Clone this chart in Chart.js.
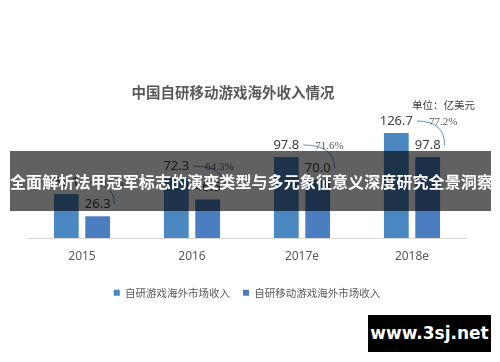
<!DOCTYPE html>
<html>
<head>
<meta charset="utf-8">
<script src="https://cdn.jsdelivr.net/npm/chart.js@4.4.1/dist/chart.umd.min.js"></script>
<style>
  html, body { margin: 0; padding: 0; background: #fff; }
  #wrap { position: relative; width: 500px; height: 362px; overflow: hidden; }
  #title { position: absolute; left: 0; width: 466px; top: 81px; text-align: center;
           font: bold 14.5px "Noto Sans CJK SC", sans-serif; color: #595959; }
  #unit { position: absolute; left: 412px; top: 97px; font: 10.5px "Noto Sans CJK SC", sans-serif; color: #404040; }
  #banner { position: absolute; left: 10px; top: 151px; width: 481px; height: 60px; background: rgba(0,0,0,0.62);
            color: #fff; font: bold 16px "Noto Sans CJK SC", sans-serif; line-height: 60px; text-align: center; white-space: nowrap; letter-spacing: 0.1px; }
  #mark { position: absolute; left: 368px; top: 315px; width: 123px; height: 37px; background: #000;
          color: #fff; font: bold 17px "DejaVu Sans", sans-serif; line-height: 37px; text-align: center; }
</style>
</head>
<body>
<div id="wrap">
  <canvas id="myChart" width="500" height="362"></canvas>
  <div id="title">中国自研移动游戏海外收入情况</div>
  <div id="unit">单位：亿美元</div>
  <div id="banner">全面解析法甲冠军标志的演变类型与多元象征意义深度研究全景洞察</div>
  <div id="mark">www.3sj.net</div>
</div>
<script>
const years = ['2015', '2016', '2017e', '2018e'];
const gameRevenue = [53.1, 72.3, 97.8, 126.7];
const mobileRevenue = [26.3, 46.5, 70.0, 97.8];
const shareLabels = ['49.5%', '64.3%', '71.6%', '77.2%'];

// valeurs au-dessus des barres + arcs de pourcentage
const labelPlugin = {
  id: 'labels',
  afterDatasetsDraw(chart) {
    const ctx = chart.ctx;
    const m0 = chart.getDatasetMeta(0).data;
    const m1 = chart.getDatasetMeta(1).data;
    ctx.save();
    ctx.font = '13px "Noto Sans", sans-serif';
    ctx.fillStyle = '#404040';
    ctx.textAlign = 'center';
    ctx.textBaseline = 'middle';
    const pos = [];
    [m0, m1].forEach((bars, d) => {
      bars.forEach((bar, i) => {
        const v = chart.data.datasets[d].data[i];
        const txt = v.toFixed(1);
        const y = bar.y - 12;
        ctx.fillText(txt, bar.x, y);
        pos.push({ d, i, x: bar.x, y, w: ctx.measureText(txt).width });
      });
    });
    ctx.strokeStyle = '#5b8fc9';
    ctx.lineWidth = 1;
    ctx.font = '11px "Liberation Serif", serif';
    ctx.fillStyle = '#595959';
    ctx.textAlign = 'left';
    years.forEach((yr, i) => {
      const a = pos.find(p => p.d === 0 && p.i === i);
      const b = pos.find(p => p.d === 1 && p.i === i);
      const sx = a.x + a.w / 2 + 4, sy = a.y;
      const ex = b.x + b.w / 2 + 4, ey = b.y;
      ctx.beginPath();
      ctx.moveTo(sx, sy);
      ctx.quadraticCurveTo(ex, sy, ex, ey);
      ctx.stroke();
      ctx.fillText(shareLabels[i], sx + 12, sy + 1);
    });
    ctx.restore();
  }
};

const ctx = document.getElementById('myChart').getContext('2d');
new Chart(ctx, {
  type: 'bar',
  data: {
    labels: years,
    datasets: [
      { label: '自研游戏海外市场收入', data: gameRevenue, backgroundColor: '#4b87c0',
        categoryPercentage: 0.57, barPercentage: 0.79 },
      { label: '自研移动游戏海外市场收入', data: mobileRevenue, backgroundColor: '#4b7ec1',
        categoryPercentage: 0.57, barPercentage: 0.79 }
    ]
  },
  options: {
    responsive: false,
    animation: false,
    layout: { padding: { left: 27, right: 33, top: 122, bottom: 54 } },
    plugins: {
      legend: {
        position: 'bottom',
        labels: {
          color: '#595959',
          font: { family: '"Noto Sans CJK SC", sans-serif', size: 10.5 },
          boxWidth: 6, boxHeight: 6, padding: 13
        }
      },
      tooltip: { enabled: false }
    },
    scales: {
      x: {
        grid: { display: false, drawTicks: false },
        border: { color: '#d9d9d9', width: 1 },
        ticks: { color: '#595959', font: { family: '"Noto Sans", sans-serif', size: 12 }, padding: 11 }
      },
      y: { display: false, min: 0, max: 140 }
    }
  },
  plugins: [labelPlugin]
});
</script>
</body>
</html>
